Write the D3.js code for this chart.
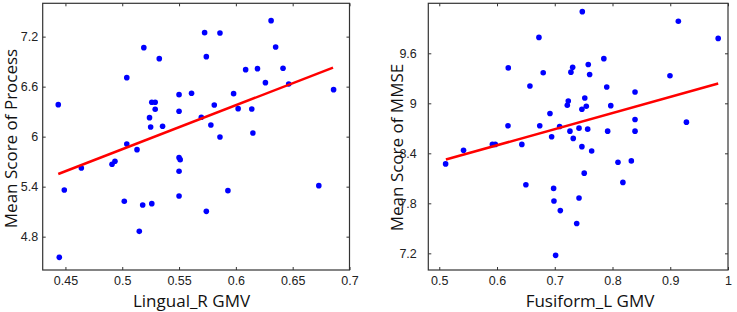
<!DOCTYPE html>
<html><head><meta charset="utf-8">
<script src="https://cdn.jsdelivr.net/npm/d3@7"></script>
<style>
body{margin:0;background:#fff;}
svg{display:block;}
.tick text{font-family:"Liberation Sans",Arial,sans-serif;font-size:12.5px;fill:#222;}
.title{font-family:"Open Sans",sans-serif;font-size:17px;fill:#111;}
</style></head><body>
<svg id="c" width="737" height="312"></svg>
<script>
// Left panel: Lingual_R GMV vs Mean Score of Process
const lingualX = [0.4437,0.4446,0.449,0.464,0.491,0.4936,0.5018,0.504,0.504,0.513,0.515,0.518,0.519,0.524,0.525,0.526,0.526,0.529,0.529,0.5326,0.5355,0.55,0.550,0.55,0.551,0.55,0.550,0.561,0.5696,0.5725,0.574,0.574,0.578,0.581,0.586,0.586,0.593,0.598,0.602,0.6086,0.614,0.615,0.619,0.626,0.631,0.635,0.6415,0.6465,0.673,0.686];
const processY = [6.384,4.552,5.36,5.624,5.668,5.704,5.224,6.708,5.912,5.844,4.864,5.18,7.068,6.228,6.116,6.412,5.196,6.412,6.328,6.936,6.124,6.504,6.304,5.748,5.724,5.584,5.288,6.52,6.232,7.248,6.96,5.104,6.14,6.38,7.244,5.996,5.352,6.516,6.336,6.804,6.332,6.044,6.816,6.648,7.392,7.076,6.82,6.632,5.412,6.564];
const fitLeftX = [0.4437, 0.6855];
const fitLeftY = [5.552, 6.828];
const leftXTicks = [0.45,0.5,0.55,0.6,0.65,0.7];
const leftYTicks = [4.8,5.4,6,6.6,7.2];

// Right panel: Fusiform_L GMV vs Mean Score of MMSE
const fusiformX = [0.511,0.542,0.592,0.597,0.6195,0.619,0.643,0.650,0.657,0.6726,0.674,0.680,0.6917,0.6946,0.698,0.6986,0.7015,0.7084,0.7096,0.7217,0.7234,0.7263,0.728,0.731,0.732,0.738,0.742,0.742,0.747,0.747,0.7477,0.751,0.752,0.7546,0.757,0.758,0.7604,0.7639,0.785,0.790,0.7916,0.797,0.8095,0.818,0.8326,0.839,0.839,0.839,0.8995,0.914,0.928,0.983];
const mmseY = [8.273,8.436,8.507,8.507,9.425,8.730,8.507,8.023,9.207,9.791,8.730,9.366,8.877,8.599,7.979,7.828,7.176,8.722,7.713,8.976,9.028,8.666,9.374,9.433,8.579,7.558,8.702,7.864,8.929,8.480,10.1,8.162,9.064,8.964,8.690,9.465,9.346,8.428,9.536,9.195,8.666,8.972,8.293,8.051,8.309,9.135,8.805,8.666,9.330,9.985,8.774,9.779];
const fitRightX = [0.5115, 0.983];
const fitRightY = [8.325, 9.238];
const rightXTicks = [0.5,0.6,0.7,0.8,0.9,1];
const rightYTicks = [7.2,7.8,8.4,9,9.6];

const svg = d3.select("#c");

function panel(cfg){
  const g = svg.append("g");
  const x = d3.scaleLinear().domain(cfg.xDomain).range([cfg.x0, cfg.x1]);
  const y = d3.scaleLinear().domain(cfg.yDomain).range([cfg.y1, cfg.y0]);
  const fmt = d => String(d);
  const bottom = g.append("g").attr("transform",`translate(0,${cfg.y1})`)
    .call(d3.axisBottom(x).tickValues(cfg.xTicks).tickSizeInner(-3).tickSizeOuter(0).tickPadding(6).tickFormat(fmt));
  const top = g.append("g").attr("transform",`translate(0,${cfg.y0})`)
    .call(d3.axisTop(x).tickValues(cfg.xTicks).tickSizeInner(-3).tickSizeOuter(0).tickFormat(""));
  const left = g.append("g").attr("transform",`translate(${cfg.x0},0)`)
    .call(d3.axisLeft(y).tickValues(cfg.yTicks).tickSizeInner(-3).tickSizeOuter(0).tickPadding(cfg.yPad).tickFormat(fmt));
  const right = g.append("g").attr("transform",`translate(${cfg.x1},0)`)
    .call(d3.axisRight(y).tickValues(cfg.yTicks).tickSizeInner(-3).tickSizeOuter(0).tickFormat(""));
  [bottom,top,left,right].forEach(a=>{a.select(".domain").remove(); a.selectAll("line").attr("stroke","#333");});
  g.append("rect").attr("x",cfg.x0).attr("y",cfg.y0).attr("width",cfg.x1-cfg.x0).attr("height",cfg.y1-cfg.y0)
    .attr("fill","none").attr("stroke","#333").attr("stroke-width",1.2);
  g.append("g").selectAll("circle").data(cfg.xs.map((v,i)=>[v,cfg.ys[i]])).join("circle")
    .attr("cx",d=>x(d[0])).attr("cy",d=>y(d[1])).attr("r",2.8).attr("fill","#0000ff");
  g.append("path").datum(cfg.fx.map((v,i)=>[v,cfg.fy[i]]))
    .attr("d",d3.line().x(d=>x(d[0])).y(d=>y(d[1])))
    .attr("stroke","#ff0000").attr("stroke-width",2.5).attr("fill","none");
  g.append("text").attr("class","title").attr("x",cfg.xTitleX).attr("y",306.5)
    .attr("text-anchor","middle").text(cfg.xTitle);
  g.append("text").attr("class","title").attr("transform",`translate(${cfg.yTitleX},${cfg.yTitleY}) rotate(-90)`)
    .attr("text-anchor","middle").text(cfg.yTitle);
}

panel({x0:42.7,x1:349.5,y0:3.3,y1:270,xDomain:[0.43,0.7],yDomain:[4.4,7.6],
  xTicks:leftXTicks,yTicks:leftYTicks,xs:lingualX,ys:processY,fx:fitLeftX,fy:fitLeftY,yPad:4.5,
  xTitle:"Lingual_R GMV",xTitleX:191.5,yTitle:"Mean Score of Process",yTitleX:17,yTitleY:138.5});
panel({x0:428.3,x1:728,y0:3.3,y1:270,xDomain:[0.481,1.0],yDomain:[7.0,10.2],
  xTicks:rightXTicks,yTicks:rightYTicks,xs:fusiformX,ys:mmseY,fx:fitRightX,fy:fitRightY,yPad:11.5,
  xTitle:"Fusiform_L GMV",xTitleX:590,yTitle:"Mean Score of MMSE",yTitleX:402.5,yTitleY:147.5});
</script>
</body></html>
